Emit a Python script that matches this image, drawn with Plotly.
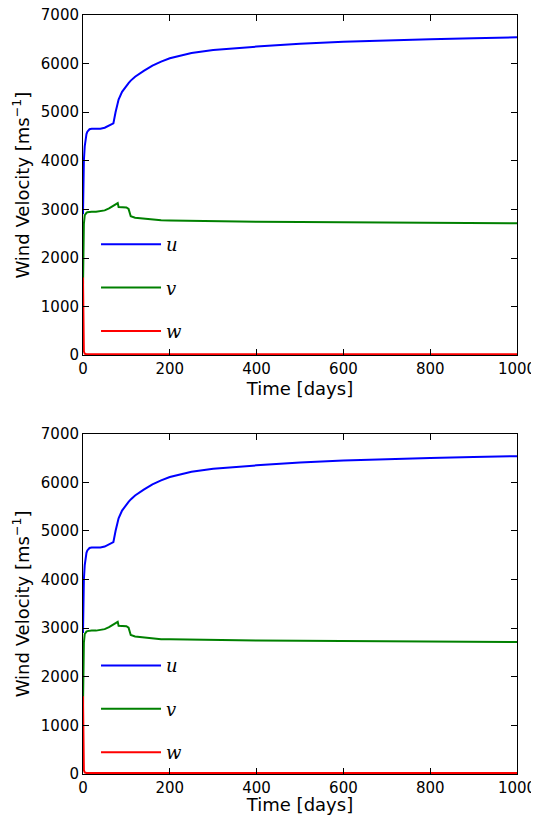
import plotly.graph_objects as go
from plotly.subplots import make_subplots

time = [0, 1, 2, 4, 6, 8, 10, 15, 20, 30, 40, 50, 60, 70, 75, 80, 82, 90, 100, 105, 110,
        120, 140, 160, 180, 200, 250, 300, 400, 500, 600, 700, 800, 900, 1000]
u = [2900, 3600, 4000, 4300, 4450, 4550, 4600, 4650, 4660, 4660, 4660, 4680, 4720, 4770, 5000,
     5200, 5260, 5420, 5550, 5600, 5650, 5730, 5850, 5960, 6040, 6110, 6220, 6280, 6350, 6410,
     6450, 6480, 6500, 6520, 6540]
v = [1400, 2300, 2700, 2880, 2920, 2930, 2940, 2950, 2950, 2950, 2960, 2980, 3020, 3080, 3110,
     3130, 3050, 3050, 3040, 3010, 2860, 2830, 2810, 2790, 2775, 2770, 2760, 2755, 2745, 2740,
     2735, 2730, 2725, 2720, 2715]
w = [1600, 300, 80, 30, 20, 20, 20, 20, 20, 20, 20, 20, 20, 20, 20, 20, 20, 20, 20, 20, 20,
     20, 20, 20, 20, 20, 20, 20, 20, 20, 20, 20, 20, 20, 20]

names = ['u', 'v', 'w']
colors = ['#0000ff', '#008000', '#ff0000']

fig = make_subplots(rows=2, cols=1, vertical_spacing=0.1035)
for row in [1, 2]:
    for name, ys, col in zip(names, [u, v, w], colors):
        fig.add_trace(go.Scatter(
            x=time, y=ys, mode='lines', name='<i>' + name + '</i>',
            line=dict(color=col, width=2), legendgroup=name + str(row),
            legend='legend' if row == 1 else 'legend2'), row=row, col=1)

axis_style = dict(showline=True, mirror='ticks', linecolor='black', linewidth=1,
                  ticks='inside', ticklen=6, tickcolor='black', showgrid=False,
                  zeroline=False, tickfont=dict(size=15), automargin=False,
                  ticklabeloverflow='allow')
for row in [1, 2]:
    fig.update_xaxes(range=[0, 1000], dtick=200, title_text='Time [days]',
                     title_font_size=18, title_standoff=2, row=row, col=1, **axis_style)
    fig.update_yaxes(range=[0, 7000], dtick=1000, title_text='Wind Velocity [ms<sup>−1</sup>]',
                     title_font_size=18, title_standoff=6, row=row, col=1, **axis_style)

leg = dict(bgcolor='rgba(0,0,0,0)', font=dict(size=18, family='DejaVu Serif'),
           itemwidth=60, tracegroupgap=17, xanchor='left', yanchor='top')
fig.update_layout(
    width=531, height=807,
    margin=dict(l=75, r=22, t=7, b=41),
    plot_bgcolor='white', paper_bgcolor='white',
    font=dict(family='DejaVu Sans', color='black'),
    legend=dict(x=0.03, y=0.722, **leg),
    legend2=dict(x=0.03, y=0.167, **leg),
)

fig.write_html("out.html")
